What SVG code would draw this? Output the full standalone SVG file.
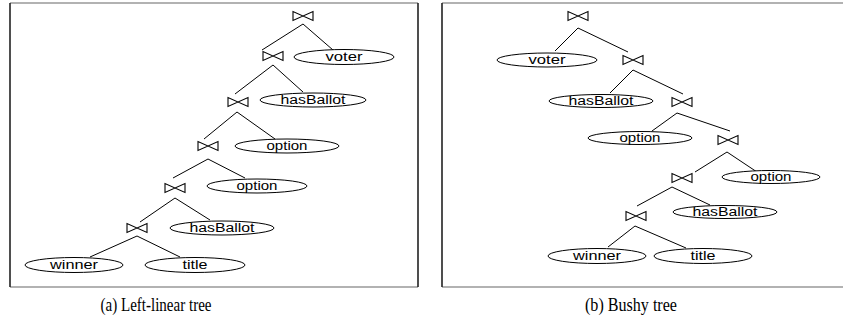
<svg xmlns="http://www.w3.org/2000/svg" width="843" height="326" viewBox="0 0 843 326">
<style>
.fv{stroke:#222;stroke-width:1.6;fill:none}
.fh{stroke:#999;stroke-width:1.6;fill:none}
.e{fill:#fff;stroke:#000;stroke-width:1}
.l{font-family:"Liberation Sans",Arial,sans-serif;font-size:12px;fill:#000;text-anchor:middle}
.c{font-family:"Liberation Serif","Times New Roman",serif;font-size:18.5px;fill:#000;text-anchor:middle}
.cn line{stroke:#000;stroke-width:1}
</style>
<defs>
<path id="bt" d="M-10,-4.5 V4.5 L10,-4.5 V4.5 Z" fill="none" stroke="#000" stroke-width="1.1" stroke-linejoin="miter"/>
</defs>
<rect width="843" height="326" fill="#fff"/>
<g id="frame-a">
<line class="fh" x1="10" y1="3" x2="418" y2="3"/>
<line class="fh" x1="10" y1="287" x2="418" y2="287"/>
<line class="fv" x1="10" y1="3" x2="10" y2="287"/>
<line class="fv" x1="418" y1="3" x2="418" y2="287"/>
</g>
<g id="frame-b">
<line class="fh" x1="442" y1="3" x2="843" y2="3"/>
<line class="fh" x1="442" y1="287" x2="843" y2="287"/>
<line class="fv" x1="442" y1="3" x2="442" y2="287"/>
</g>
<g id="connectors" class="cn">
<line x1="303" y1="24" x2="262" y2="50"/><line x1="303" y1="24" x2="333" y2="50"/>
<line x1="273" y1="65" x2="235" y2="94"/><line x1="273" y1="65" x2="303" y2="92"/>
<line x1="237" y1="112" x2="204" y2="139"/><line x1="237" y1="112" x2="275" y2="139"/>
<line x1="208" y1="159" x2="173" y2="178"/><line x1="208" y1="159" x2="245" y2="178"/>
<line x1="175" y1="198" x2="140" y2="222"/><line x1="175" y1="198" x2="210" y2="220"/>
<line x1="137" y1="236" x2="90" y2="257"/><line x1="137" y1="236" x2="180" y2="257"/>
<line x1="578" y1="28" x2="555" y2="51"/><line x1="578" y1="28" x2="628" y2="52"/>
<line x1="633" y1="70" x2="610" y2="93"/><line x1="633" y1="70" x2="683" y2="94"/>
<line x1="677" y1="113" x2="652" y2="131"/><line x1="677" y1="113" x2="730" y2="131"/>
<line x1="727" y1="152" x2="695" y2="172"/><line x1="727" y1="152" x2="757" y2="172"/>
<line x1="672" y1="187" x2="637" y2="206"/><line x1="672" y1="187" x2="710" y2="205"/>
<line x1="635" y1="226" x2="608" y2="247"/><line x1="635" y1="226" x2="686" y2="248"/>
</g>
<g id="a-j1"><use href="#bt" x="303" y="16"/></g>
<g id="a-j2"><use href="#bt" x="273" y="56"/></g>
<g id="a-voter"><ellipse class="e" cx="344" cy="57" rx="50" ry="7.5"/><text class="l" x="344" y="61" textLength="37" lengthAdjust="spacingAndGlyphs">voter</text></g>
<g id="a-j3"><use href="#bt" x="238" y="102"/></g>
<g id="a-hasBallot1"><ellipse class="e" cx="313" cy="100" rx="53" ry="7"/><text class="l" x="313" y="104" textLength="65" lengthAdjust="spacingAndGlyphs">hasBallot</text></g>
<g id="a-j4"><use href="#bt" x="208" y="146"/></g>
<g id="a-option1"><ellipse class="e" cx="287" cy="146" rx="52" ry="7"/><text class="l" x="287" y="150" textLength="41" lengthAdjust="spacingAndGlyphs">option</text></g>
<g id="a-j5"><use href="#bt" x="175" y="188"/></g>
<g id="a-option2"><ellipse class="e" cx="257" cy="186" rx="50" ry="7"/><text class="l" x="257" y="190" textLength="41" lengthAdjust="spacingAndGlyphs">option</text></g>
<g id="a-j6"><use href="#bt" x="137" y="228"/></g>
<g id="a-hasBallot2"><ellipse class="e" cx="222" cy="228" rx="52" ry="7"/><text class="l" x="222" y="232" textLength="65" lengthAdjust="spacingAndGlyphs">hasBallot</text></g>
<g id="a-winner"><ellipse class="e" cx="74" cy="265" rx="49" ry="7.5"/><text class="l" x="74" y="269" textLength="48" lengthAdjust="spacingAndGlyphs">winner</text></g>
<g id="a-title"><ellipse class="e" cx="195" cy="265" rx="50" ry="7.5"/><text class="l" x="195" y="269" textLength="25" lengthAdjust="spacingAndGlyphs">title</text></g>
<g id="b-j1"><use href="#bt" x="578" y="16"/></g>
<g id="b-voter"><ellipse class="e" cx="547" cy="60" rx="50" ry="7"/><text class="l" x="547" y="64" textLength="37" lengthAdjust="spacingAndGlyphs">voter</text></g>
<g id="b-j2"><use href="#bt" x="633" y="60"/></g>
<g id="b-hasBallot1"><ellipse class="e" cx="601" cy="101" rx="52" ry="6.5"/><text class="l" x="601" y="105" textLength="65" lengthAdjust="spacingAndGlyphs">hasBallot</text></g>
<g id="b-j3"><use href="#bt" x="682" y="102"/></g>
<g id="b-option1"><ellipse class="e" cx="640" cy="138" rx="52" ry="6.5"/><text class="l" x="640" y="142" textLength="41" lengthAdjust="spacingAndGlyphs">option</text></g>
<g id="b-j4"><use href="#bt" x="728" y="140"/></g>
<g id="b-option2"><ellipse class="e" cx="771" cy="177" rx="49" ry="6.5"/><text class="l" x="771" y="181" textLength="41" lengthAdjust="spacingAndGlyphs">option</text></g>
<g id="b-j5"><use href="#bt" x="682" y="178"/></g>
<g id="b-hasBallot2"><ellipse class="e" cx="725" cy="212" rx="52" ry="6.5"/><text class="l" x="725" y="216" textLength="65" lengthAdjust="spacingAndGlyphs">hasBallot</text></g>
<g id="b-j6"><use href="#bt" x="636" y="216"/></g>
<g id="b-winner"><ellipse class="e" cx="597" cy="256" rx="49" ry="7.5"/><text class="l" x="597" y="260" textLength="48" lengthAdjust="spacingAndGlyphs">winner</text></g>
<g id="b-title"><ellipse class="e" cx="703" cy="256" rx="49" ry="7.5"/><text class="l" x="703" y="260" textLength="25" lengthAdjust="spacingAndGlyphs">title</text></g>
<g id="captions">
<text class="c" x="156" y="311" textLength="111" lengthAdjust="spacingAndGlyphs">(a) Left-linear tree</text>
<text class="c" x="631" y="311" textLength="92" lengthAdjust="spacingAndGlyphs">(b) Bushy tree</text>
</g>
</svg>
